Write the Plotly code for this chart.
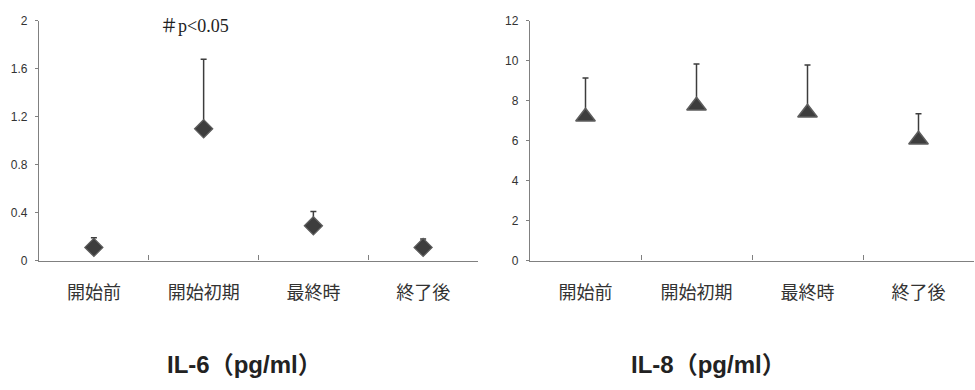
import plotly.graph_objects as go

categories = ["開始前", "開始初期", "最終時", "終了後"]
il6_mean = [0.11, 1.10, 0.29, 0.11]
il6_err = [0.08, 0.58, 0.12, 0.07]
il8_mean = [7.2, 7.75, 7.4, 6.05]
il8_err = [1.95, 2.1, 2.4, 1.3]
il6_ticks = [0, 0.4, 0.8, 1.2, 1.6, 2]
il8_ticks = [0, 2, 4, 6, 8, 10, 12]

W, H = 975, 390
y_dom = [(H - 263) / H, (H - 14.5) / H]
mark_col = "#3d3d3d"

fig = go.Figure()
fig.add_trace(go.Scatter(
    x=categories, y=il6_mean, mode="markers", xaxis="x", yaxis="y",
    marker=dict(symbol="diamond", size=14, color=mark_col, line=dict(color="#5e5e5e", width=1.2)),
    error_y=dict(type="data", symmetric=False, array=il6_err, arrayminus=[0] * 4,
                 color="#3d3d3d", thickness=1.5, width=3),
    showlegend=False))
fig.add_trace(go.Scatter(
    x=categories, y=il8_mean, mode="markers", xaxis="x2", yaxis="y2",
    marker=dict(symbol="triangle-up", size=17, color=mark_col, line=dict(color="#5e5e5e", width=1.5)),
    error_y=dict(type="data", symmetric=False, array=il8_err, arrayminus=[0] * 4,
                 color="#3d3d3d", thickness=1.5, width=3),
    showlegend=False))

xcommon = dict(type="category", range=[-0.5, 3.5], showline=True, linecolor="#808080", linewidth=1.3,
               ticks="inside", tickson="boundaries", ticklen=5, tickcolor="#808080",
               showgrid=False, zeroline=False, ticklabelstandoff=16,
               tickfont=dict(family="Noto Sans CJK JP", size=18, color="#333333"))
ycommon = dict(showline=True, linecolor="#808080", linewidth=1.3, ticks="outside", ticklen=3,
               tickcolor="#808080", showgrid=False, zeroline=False, ticklabelstandoff=5,
               tickfont=dict(family="Liberation Sans", size=12, color="#333333"))

fig.update_layout(
    width=W, height=H, margin=dict(l=0, r=0, t=0, b=0),
    paper_bgcolor="white", plot_bgcolor="white",
    xaxis=dict(domain=[39 / W, 478 / W], anchor="y", **xcommon),
    yaxis=dict(domain=y_dom, anchor="x", range=[0, 2], tickvals=il6_ticks,
               ticktext=[str(v) for v in il6_ticks], **ycommon),
    xaxis2=dict(domain=[530 / W, 974 / W], anchor="y2", **xcommon),
    yaxis2=dict(domain=y_dom, anchor="x2", range=[0, 12], tickvals=il8_ticks, **ycommon),
    annotations=[
        dict(text="＃p<0.05", x=194 / W, y=(H - 20) / H, xref="paper", yref="paper",
             xanchor="center", yanchor="middle", showarrow=False,
             font=dict(family="Liberation Serif, Noto Sans CJK JP", size=18, color="#222222")),
        dict(text="<b>IL-6（pg/ml）</b>", x=244 / W, y=(H - 371) / H, xref="paper", yref="paper",
             xanchor="center", yanchor="middle", showarrow=False,
             font=dict(family="Liberation Sans, Noto Sans CJK JP", size=24, color="#222222")),
        dict(text="<b>IL-8（pg/ml）</b>", x=708 / W, y=(H - 371) / H, xref="paper", yref="paper",
             xanchor="center", yanchor="middle", showarrow=False,
             font=dict(family="Liberation Sans, Noto Sans CJK JP", size=24, color="#222222")),
    ],
)
fig.write_html("out.html", config={"displayModeBar": False},
               post_script="document.body.style.margin='0';")
